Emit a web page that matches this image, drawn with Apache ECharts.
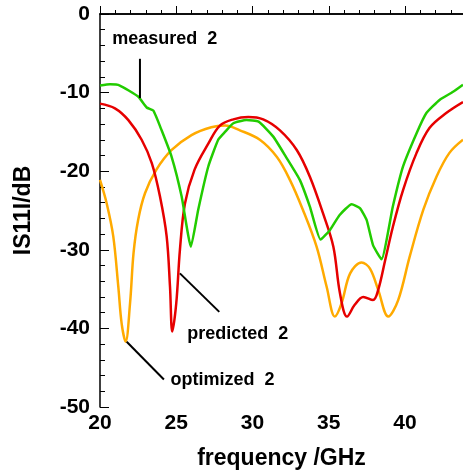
<!DOCTYPE html>
<html>
<head>
<meta charset="utf-8">
<script src="https://cdn.jsdelivr.net/npm/echarts@6/dist/echarts.min.js"></script>
<style>
  html, body { margin: 0; padding: 0; background: #fff; }
  #chart { width: 463px; height: 475px; }
</style>
</head>
<body>
<div id="chart"></div>
<script>
// [frequency GHz, |S11| dB]
const measured = [
  [20.0, -9.1], [20.66, -8.95], [21.3, -9.1], [22.5, -10.5], [23.06, -11.9], [23.5, -12.3],
  [24.04, -14.8], [24.7, -18.2], [25.35, -23.2], [25.96, -29.6], [26.44, -24.9], [27.1, -19.4],
  [27.75, -16.0], [28.2, -15.0], [28.74, -13.9], [29.6, -13.5], [30.4, -13.7], [31.36, -15.6],
  [32.2, -18.2], [33.1, -21.1], [33.76, -24.5], [34.46, -28.7], [35.07, -27.5], [35.7, -25.6],
  [36.5, -24.2], [37.04, -24.7], [37.48, -26.2], [37.9, -29.4], [38.46, -31.2], [39.2, -24.5],
  [39.87, -19.4], [40.75, -15.2], [41.4, -12.6], [42.28, -10.9], [43.15, -9.9], [43.8, -9.0]
]
const predicted = [
  [20.0, -11.4], [20.98, -12.0], [21.86, -13.5], [22.73, -16.0], [23.4, -19.0], [23.93, -23.2],
  [24.37, -28.3], [24.59, -34.7], [24.74, -40.4], [25.0, -36.8], [25.24, -30.0], [25.57, -24.1],
  [26.2, -19.8], [27.1, -16.5], [27.86, -14.2], [28.74, -13.4], [29.72, -13.1], [30.7, -13.4],
  [31.8, -14.8], [32.9, -17.3], [33.76, -20.7], [34.63, -25.4], [35.3, -29.6], [35.73, -35.5],
  [36.2, -38.5], [36.7, -37.0], [37.26, -36.0], [37.9, -36.4], [38.24, -35.1], [38.7, -31.3],
  [39.2, -27.1], [39.87, -22.4], [40.75, -17.7], [41.6, -14.5], [42.7, -12.6], [43.8, -11.2]
]
const optimized = [
  [20.0, -21.1], [20.44, -24.1], [20.87, -28.3], [21.2, -34.7], [21.42, -39.4], [21.68, -41.7],
  [21.97, -36.8], [22.2, -30.4], [22.5, -26.2], [22.95, -22.8], [23.7, -19.8], [24.7, -17.3],
  [26.0, -15.4], [27.3, -14.4], [28.2, -14.2], [29.17, -14.8], [30.48, -16.0], [31.6, -18.2],
  [32.45, -21.1], [33.3, -24.9], [34.2, -29.6], [34.86, -34.7], [35.4, -38.5], [35.84, -36.8],
  [36.4, -33.0], [37.15, -31.6], [37.7, -32.4], [38.24, -35.1], [38.9, -38.5], [39.55, -36.4],
  [40.3, -30.9], [41.2, -24.9], [42.06, -20.7], [42.9, -17.7], [43.8, -16.0]
]

// annotation leader lines and labels, in data units
const labelNames = ['measured  2', 'predicted  2', 'optimized  2']
const labelAt = [[20.77, -3.2], [25.68, -40.7], [24.59, -46.6]]
const leaders = [
  [[22.62, -5.7], [22.62, -10.7]],
  [[25.24, -33.0], [27.82, -37.9]],
  [[21.75, -41.7], [24.19, -46.5]]
]

const font = 'Liberation Sans, Arial, Helvetica, sans-serif'
const chart = echarts.init(document.getElementById('chart'))

const curve = (name, data, color) => ({
  name,
  type: 'line',
  data,
  smooth: 0.35,
  symbol: 'none',
  lineStyle: { color, width: 2.5 },
  z: 3
})

const option = {
  animation: false,
  grid: { left: 100, top: 14, right: 0, bottom: 68, outerBoundsMode: 'none' },
  xAxis: [{
    type: 'value',
    min: 20,
    max: 43.8,
    interval: 5,
    name: 'frequency /GHz',
    nameLocation: 'middle',
    nameGap: 40,
    nameTextStyle: { color: '#000', fontFamily: font, fontWeight: 'bold', fontSize: 23 },
    axisLine: { lineStyle: { color: '#000', width: 1.5 } },
    axisTick: { inside: true, length: 8, lineStyle: { color: '#000' } },
    minorTick: { show: true, splitNumber: 5, length: 4, lineStyle: { color: '#000' } },
    axisLabel: {
      color: '#000', fontFamily: font, fontWeight: 'bold', fontSize: 21, margin: 6,
      showMaxLabel: false
    },
    splitLine: { show: false }
  }, {
    type: 'value',
    position: 'top',
    min: 20,
    max: 43.8,
    axisLine: { show: true, lineStyle: { color: '#000', width: 1.5 } },
    axisTick: { show: false },
    axisLabel: { show: false },
    splitLine: { show: false }
  }],
  yAxis: {
    type: 'value',
    min: -50,
    max: 0,
    interval: 10,
    name: 'IS11I/dB',
    nameLocation: 'middle',
    nameGap: 65,
    nameTextStyle: { color: '#000', fontFamily: font, fontWeight: 'bold', fontSize: 23 },
    axisLine: { show: true, lineStyle: { color: '#000', width: 1.5 } },
    axisTick: { inside: true, length: 9, lineStyle: { color: '#000' } },
    minorTick: { show: true, splitNumber: 5, length: 5, lineStyle: { color: '#000' } },
    axisLabel: { color: '#000', fontFamily: font, fontWeight: 'bold', fontSize: 21, margin: 10 },
    splitLine: { show: false }
  },
  series: [
    curve('optimized 2', optimized, '#ffaa00'),
    curve('predicted 2', predicted, '#e60000'),
    Object.assign(curve('measured 2', measured, '#22cc00'), { smooth: 0.15 }),
    ...leaders.map((seg) => ({
      type: 'line',
      data: seg,
      symbol: 'none',
      silent: true,
      lineStyle: { color: '#000', width: 2 },
      z: 4
    })),
    {
      type: 'scatter',
      data: labelAt.map((p, i) => ({ value: p, name: labelNames[i] })),
      symbolSize: 1,
      itemStyle: { color: 'rgba(0,0,0,0)' },
      silent: true,
      label: {
        show: true,
        position: 'right',
        distance: 0,
        formatter: '{b}',
        color: '#000',
        opacity: 1,
        textBorderWidth: 0,
        fontFamily: font,
        fontWeight: 'bold',
        fontSize: 18
      },
      z: 5
    }
  ]
}

chart.setOption(option)
</script>
</body>
</html>
